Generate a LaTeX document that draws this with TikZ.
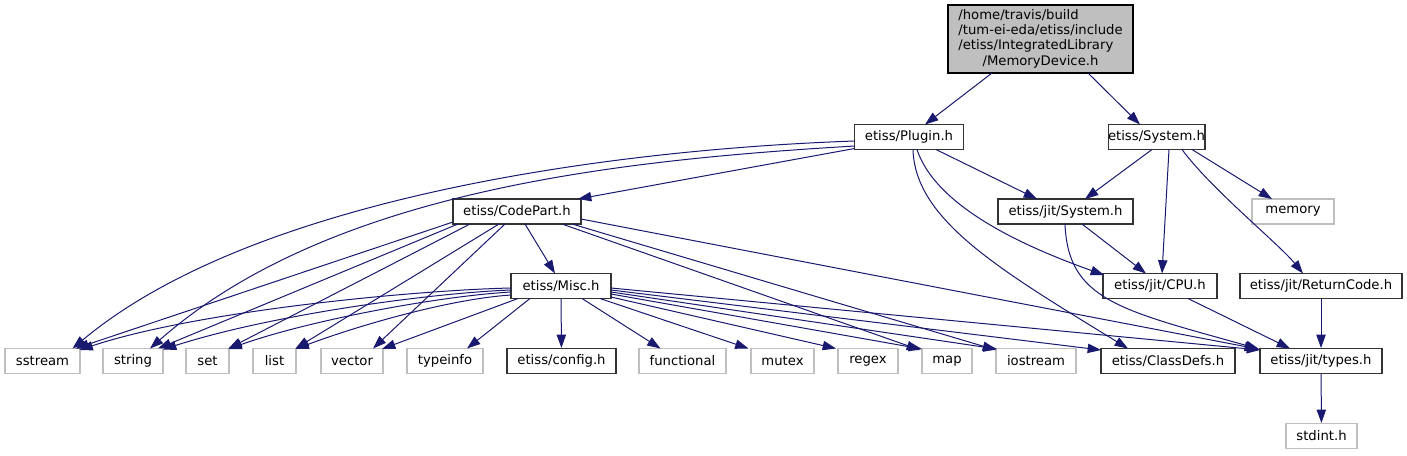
\documentclass[tikz,border=0pt]{standalone}
\usepackage{fontspec}
\setmainfont{DejaVu Sans}
\usetikzlibrary{arrows.meta,calc}
\definecolor{edgeblue}{HTML}{191970}
\begin{document}
\begin{tikzpicture}[x=0.75pt,y=-0.75pt,
  filebox/.style={draw=black!80, line width=0.8pt, fill=white, inner sep=0pt,
    minimum height=18.75pt, font=\fontsize{9.9}{11.5}\selectfont},
  sysbox/.style={filebox, draw=black!25},
  wd/.style={minimum width=#1*0.75pt},
  dep/.style={draw=edgeblue, line width=0.75pt, -{Triangle[length=10pt,width=7pt]}}]
\useasboundingbox (0,0) rectangle (1407,455);
\fill[white] (0,0) rectangle (1407,455);

% nodes
\node[filebox, fill=black!25, draw=black, wd=185, minimum height=51pt] (top) at (1040.5,39)
  {\begin{tabular}{@{}l@{}}/home/travis/build\\/tum-ei-eda/etiss/include\\/etiss/IntegratedLibrary\\\multicolumn{1}{@{}c@{}}{/MemoryDevice.h}\end{tabular}};
\node[filebox, wd=109] (plugin) at (909,137) {etiss/Plugin.h};
\node[filebox, wd=91] (system) at (1156.5,137) {etiss/System.h};
\node[filebox, wd=135] (jitsystem) at (1065.5,211.5) {etiss/jit/System.h};
\node[sysbox, wd=82] (memory) at (1293,211.5) {memory};
\node[filebox, wd=128] (codepart) at (517,211.5) {etiss/CodePart.h};
\node[filebox, wd=100] (misc) at (561,286) {etiss/Misc.h};
\node[filebox, wd=114] (cpu) at (1160,286) {etiss/jit/CPU.h};
\node[filebox, wd=162] (returncode) at (1321,286) {etiss/jit/ReturnCode.h};
\node[sysbox, wd=75] (sstream) at (42.5,361) {sstream};
\node[sysbox, wd=60] (string) at (133,361) {string};
\node[sysbox, wd=43] (set) at (207.5,361) {set};
\node[sysbox, wd=43] (list) at (274.5,361) {list};
\node[sysbox, wd=62] (vector) at (352,361) {vector};
\node[sysbox, wd=76] (typeinfo) at (445,361) {typeinfo};
\node[filebox, wd=109] (config) at (561.5,361) {etiss/config.h};
\node[sysbox, wd=87] (functional) at (682.5,361) {functional};
\node[sysbox, wd=63] (mutex) at (782.5,361) {mutex};
\node[sysbox, wd=60] (regex) at (868,361) {regex};
\node[sysbox, wd=50] (map) at (947,361) {map};
\node[sysbox, wd=80] (iostream) at (1036,361) {iostream};
\node[filebox, wd=134] (classdefs) at (1168,361) {etiss/ClassDefs.h};
\node[filebox, wd=122] (types) at (1321,361) {etiss/jit/types.h};
\node[sysbox, wd=71] (stdint) at (1321.5,436) {stdint.h};

% top
\draw[dep] ($(top)+(-48.5,34)$) -- ($(plugin)+(16,-12.5)$);
\draw[dep] ($(top)+(47.5,34)$) -- ($(system)+(-16.5,-12.5)$);
% plugin
\draw[dep] ($(plugin)+(-54.5,4)$) .. controls (600,150) and (250,200) .. ($(sstream)+(30,-12.5)$);
\draw[dep] ($(plugin)+(-54.5,9)$) .. controls (620,160) and (330,190) .. ($(string)+(17,-12.5)$);
\draw[dep] ($(plugin)+(-54.5,11.5)$) -- ($(codepart)+(61,-12.5)$);
\draw[dep] ($(plugin)+(27,12.5)$) -- ($(jitsystem)+(-28.5,-12.5)$);
\draw[dep] ($(plugin)+(8,12.5)$) .. controls (937,210) and (1034,250) .. ($(cpu)+(-56,-11)$);
\draw[dep] ($(plugin)+(4,12.5)$) .. controls (915,220) and (1000,270) .. ($(classdefs)+(-40,-12.5)$);
% system
\draw[dep] ($(system)+(-4.5,12.5)$) -- ($(jitsystem)+(19.5,-12.5)$);
\draw[dep] ($(system)+(12.5,12.5)$) -- ($(cpu)+(2,-12.5)$);
\draw[dep] ($(system)+(35.5,12.5)$) -- ($(memory)+(-21,-12.5)$);
\draw[dep] ($(system)+(25.5,12.5)$) .. controls (1212,190) and (1278,243) .. ($(returncode)+(-18,-12.5)$);
% jit/System.h
\draw[dep] ($(jitsystem)+(16.5,12.5)$) -- ($(cpu)+(-14,-12.5)$);
\draw[dep] ($(jitsystem)+(-0.5,12.5)$) .. controls (1068,300) and (1120,310) .. ($(types)+(-62,-12)$);
% cpu, returncode, types
\draw[dep] ($(cpu)+(28,12.5)$) -- ($(types)+(-31,-12.5)$);
\draw[dep] (returncode) -- (types);
\draw[dep] (types) -- (stdint);
% codepart
\draw[dep] ($(codepart)+(-64,10.5)$) -- ($(sstream)+(33,-12.5)$);
\draw[dep] ($(codepart)+(-59,12.5)$) -- ($(string)+(25,-12.5)$);
\draw[dep] ($(codepart)+(-47,12.5)$) -- ($(set)+(21,-12.5)$);
\draw[dep] ($(codepart)+(-18,12.5)$) -- ($(list)+(21,-12.5)$);
\draw[dep] ($(codepart)+(-12,12.5)$) -- ($(vector)+(21,-12.5)$);
\draw[dep] ($(codepart)+(8,12.5)$) -- ($(misc)+(-6,-12.5)$);
\draw[dep] ($(codepart)+(45,12.5)$) -- ($(map)+(-27,-11)$);
\draw[dep] ($(codepart)+(55,12.5)$) -- ($(iostream)+(-40,-11)$);
\draw[dep] ($(codepart)+(64,7.5)$) -- ($(types)+(-63,-12)$);
% misc
\draw[dep] ($(misc)+(-50,2)$) .. controls (420,290) and (200,310) .. ($(sstream)+(37,-11)$);
\draw[dep] ($(misc)+(-50,4)$) .. controls (430,293) and (270,315) .. ($(string)+(30,-11.5)$);
\draw[dep] ($(misc)+(-50,6)$) .. controls (440,296) and (310,320) .. ($(set)+(21,-12)$);
\draw[dep] ($(misc)+(-50,9)$) .. controls (450,299) and (360,325) .. ($(list)+(21,-12)$);
\draw[dep] ($(misc)+(-43,12.5)$) -- ($(vector)+(30,-12)$);
\draw[dep] ($(misc)+(-31,12.5)$) -- ($(typeinfo)+(22,-12.5)$);
\draw[dep] (misc) -- (config);
\draw[dep] ($(misc)+(21,12.5)$) -- ($(functional)+(-22,-12.5)$);
\draw[dep] ($(misc)+(39,12.5)$) -- ($(mutex)+(-34,-12.5)$);
\draw[dep] ($(misc)+(50,11)$) -- ($(regex)+(-32,-12.5)$);
\draw[dep] ($(misc)+(50,8)$) -- ($(map)+(-25,-12)$);
\draw[dep] ($(misc)+(50,6)$) -- ($(iostream)+(-39,-12)$);
\draw[dep] ($(misc)+(50,4)$) -- ($(classdefs)+(-67,-11)$);
\draw[dep] ($(misc)+(50,2)$) -- ($(types)+(-61,-11)$);
\end{tikzpicture}
\end{document}
